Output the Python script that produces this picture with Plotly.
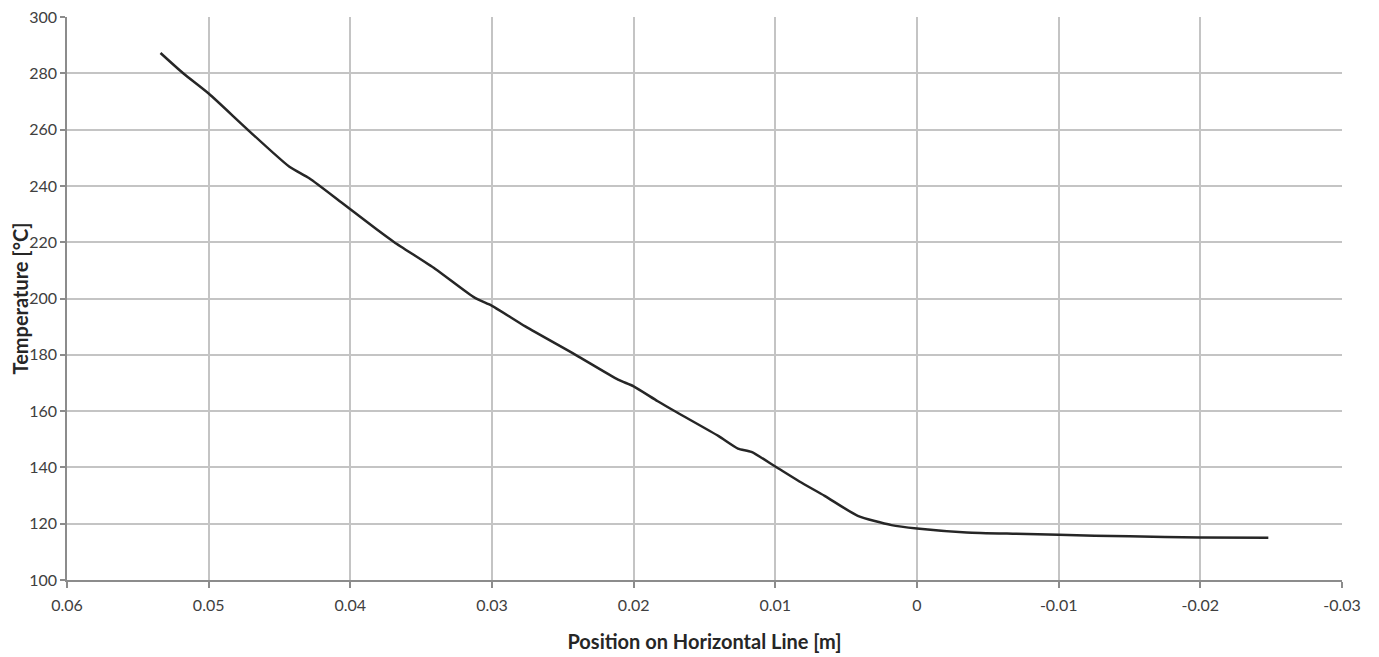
import plotly.graph_objects as go

position_m = [0.0534, 0.0518, 0.0500, 0.04725, 0.0443, 0.0429, 0.0406, 0.0381, 0.0369,
              0.0340, 0.0312, 0.0300, 0.02765, 0.0241, 0.0211, 0.0200, 0.0183, 0.0169,
              0.0140, 0.01264, 0.01169, 0.0100, 0.0083, 0.00652, 0.00418, 0.0018,
              0.0000, -0.0035, -0.0070, -0.0100, -0.0150, -0.0200, -0.0248]
temperature_c = [287.2, 280.0, 272.8, 260.0, 246.8, 242.7, 234.0, 224.4, 220.0,
                 210.5, 200.2, 197.4, 190.1, 180.0, 171.2, 168.8, 163.5, 159.4,
                 151.1, 146.7, 145.5, 140.3, 135.0, 129.9, 122.8, 119.5,
                 118.3, 116.9, 116.4, 116.05, 115.5, 115.1, 115.0]

x_ticks = [0.06, 0.05, 0.04, 0.03, 0.02, 0.01, 0, -0.01, -0.02, -0.03]
x_tick_labels = ["0.06", "0.05", "0.04", "0.03", "0.02", "0.01", "0", "-0.01", "-0.02", "-0.03"]
y_ticks = [100, 120, 140, 160, 180, 200, 220, 240, 260, 280, 300]

FONT = "Lato, 'Open Sans', sans-serif"

fig = go.Figure()
fig.add_trace(go.Scatter(
    x=position_m, y=temperature_c, mode="lines",
    line=dict(color="#262626", width=2.5, shape="spline", smoothing=0.6),
    showlegend=False, hoverinfo="x+y",
))

# page body has an 8px default margin, so the figure is sized/offset to compensate
fig.update_layout(
    width=1371, height=649,
    margin=dict(l=59, r=37, t=9, b=77),
    paper_bgcolor="white", plot_bgcolor="white",
    font=dict(family=FONT, size=16, color="#404040"),
)
fig.update_xaxes(
    range=[0.06, -0.03], tickvals=x_ticks, ticktext=x_tick_labels,
    automargin=False, ticklabeloverflow="allow", ticklabelstandoff=4,
    showgrid=True, gridcolor="#c4c4c4", gridwidth=1.5,
    showline=True, linecolor="#8c8c8c", linewidth=1.5,
    ticks="outside", ticklen=6, tickcolor="#8c8c8c", tickwidth=1.5,
    zeroline=False,
    tickfont=dict(family=FONT, size=16, color="#404040"),
    title=dict(text="<b>Position on Horizontal Line [m]</b>",
               font=dict(family=FONT, size=20, color="#262626"), standoff=22),
)
fig.update_yaxes(
    range=[100, 300], tickvals=y_ticks,
    automargin=False, ticklabeloverflow="allow",
    showgrid=True, gridcolor="#c4c4c4", gridwidth=1.5,
    showline=True, linecolor="#8c8c8c", linewidth=1.5,
    ticks="outside", ticklen=5, tickcolor="#8c8c8c", tickwidth=1.5,
    zeroline=False,
    tickfont=dict(family=FONT, size=16, color="#404040"),
    title=dict(text="<b>Temperature [°C]</b>",
               font=dict(family=FONT, size=20, color="#262626"), standoff=8),
)

fig.write_html("out.html")
